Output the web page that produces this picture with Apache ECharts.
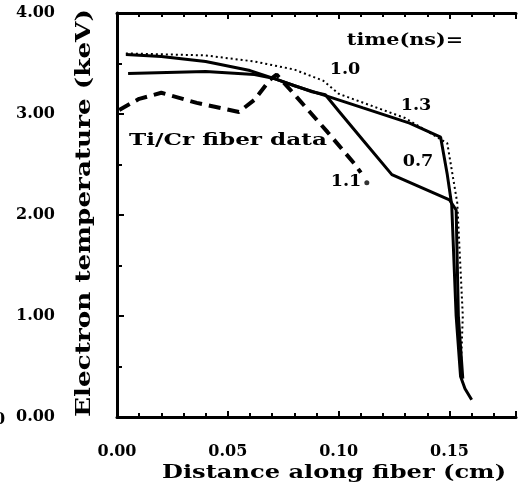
<!DOCTYPE html>
<html><head><meta charset="utf-8">
<script src="https://cdn.jsdelivr.net/npm/echarts@6/dist/echarts.min.js"></script>
<style>html,body{margin:0;padding:0;background:#fff}#c{width:519px;height:489px}</style>
</head><body><div id="c"></div>
<script>
// ---- data ----
const yTicks = [0, 1, 2, 3, 4];
const xTicks = [0, 0.05, 0.10, 0.15];

const x13 = [0.004,0.020,0.040,0.060,0.071,0.080,0.093,0.111,0.132,0.146,0.149,0.151,0.153,0.155,0.157,0.160];
const t13 = [3.59,3.57,3.52,3.43,3.35,3.28,3.19,3.06,2.91,2.77,2.40,2.10,1.00,0.40,0.28,0.17];

const x07 = [0.005,0.040,0.062,0.071,0.088,0.094,0.100,0.111,0.124,0.150,0.153,0.154,0.156];
const t07 = [3.40,3.42,3.39,3.35,3.22,3.19,3.03,2.74,2.40,2.15,2.05,1.00,0.38];

const x10 = [0.004,0.040,0.062,0.080,0.093,0.100,0.115,0.130,0.149,0.1535,0.156,0.155];
const t10 = [3.60,3.58,3.52,3.44,3.33,3.20,3.08,2.96,2.71,2.12,1.00,0.40];

const xData = [0.001,0.010,0.020,0.036,0.055,0.062,0.069,0.072,0.081,0.095,0.107,0.110];
const tData = [3.04,3.15,3.21,3.11,3.02,3.14,3.34,3.39,3.17,2.82,2.51,2.42];

const xDot = [0.1127];
const tDot = [2.32];

const zip = (a, b) => a.map((v, i) => [v, b[i]]);
const FONT = 'DejaVu Serif';

const chart = echarts.init(document.getElementById('c'), null, {renderer: 'canvas'});
const axisCommon = {
  axisLine: {show: true, lineStyle: {color: '#000', width: 3}},
  splitLine: {show: false}
};
const txt = (text, x, y, size, sx) => ({
  type: 'text', x: x, y: y, scaleX: sx || 1,
  style: {text: text, fill: '#000', font: 'bold ' + size + 'px "DejaVu Serif"',
          textAlign: 'center', textVerticalAlign: 'middle'}
});
chart.setOption({
  backgroundColor: '#fff',
  animation: false,
  grid: {left: 117, top: 13, right: -9, bottom: 72},
  xAxis: [{
    type: 'value', min: 0, max: 0.18, interval: 0.05,
    ...axisCommon,
    axisTick: {inside: true, length: 6, lineStyle: {width: 2, color: '#000'}},
    minorTick: {show: true, splitNumber: 5, length: 4, lineStyle: {width: 2, color: '#000'}},
    axisLabel: {margin: 27, color: '#000', fontFamily: FONT, fontWeight: 'bold', fontSize: 16,
      formatter: v => xTicks.some(t => Math.abs(t - v) < 1e-9) ? v.toFixed(2) : ''}
  }, {
    type: 'value', min: 0, max: 0.18, interval: 0.05, position: 'top',
    ...axisCommon,
    axisTick: {inside: true, length: 6, lineStyle: {width: 2, color: '#000'}},
    minorTick: {show: true, splitNumber: 5, length: 4, lineStyle: {width: 2, color: '#000'}},
    axisLabel: {show: false}
  }],
  yAxis: {
    type: 'value', min: 0, max: 4, interval: 1,
    ...axisCommon,
    axisTick: {inside: true, length: 7, lineStyle: {width: 2, color: '#000'}},
    minorTick: {show: true, splitNumber: 2, length: 5, lineStyle: {width: 2, color: '#000'}},
    axisLabel: {margin: 62, color: '#000', fontFamily: FONT, fontWeight: 'bold', fontSize: 16,
      formatter: v => yTicks.includes(v) ? v.toFixed(2) : ''}
  },
  graphic: [
    Object.assign(txt('Electron temperature (keV)', 85, 213, 21, 1.25), {rotation: Math.PI / 2}),
    txt('Distance along fiber (cm)', 334, 473, 19, 1.27),
    txt('time(ns)=', 405, 41, 17, 1.22),
    txt('Ti/Cr fiber data', 228, 141, 17, 1.36),
    txt('1.0', 345, 70, 16, 1.1),
    txt('1.3', 416, 106, 16, 1.1),
    txt('0.7', 418, 162, 16, 1.1),
    txt('1.1', 346, 182, 16, 1.1),
    {type: 'text', x: -6, y: 420, style: {text: '0', fill: '#000', font: 'bold 16px "DejaVu Serif"',
      textAlign: 'left', textVerticalAlign: 'middle'}}
  ],
  series: [
    {name: '1.3', type: 'line', data: zip(x13, t13), showSymbol: false, symbol: 'none',
     lineStyle: {color: '#000', width: 3}},
    {name: '0.7', type: 'line', data: zip(x07, t07), showSymbol: false, symbol: 'none',
     lineStyle: {color: '#000', width: 3}},
    {name: '1.0', type: 'line', data: zip(x10, t10), showSymbol: false, symbol: 'none',
     lineStyle: {color: '#000', width: 2, type: [2, 3]}},
    {name: 'Ti/Cr fiber data', type: 'line', data: zip(xData, tData), showSymbol: false, symbol: 'none',
     lineStyle: {color: '#000', width: 4, type: [12, 7]}},
    {name: 'end', type: 'scatter', data: zip(xDot, tDot), symbolSize: 5, itemStyle: {color: '#000'}}
  ]
});
</script></body></html>
